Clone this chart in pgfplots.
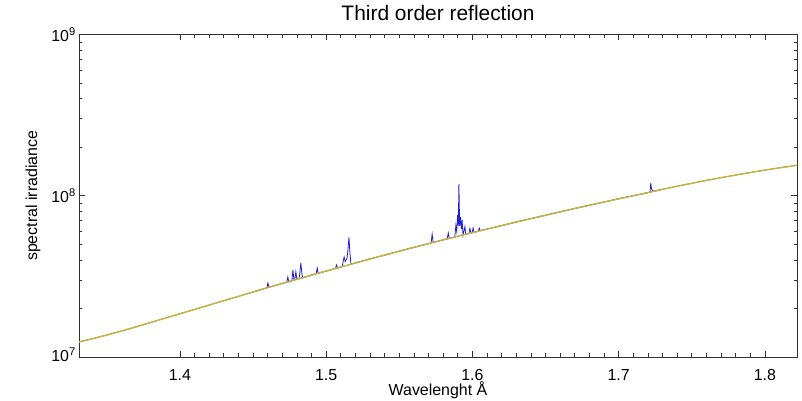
\documentclass[border=0pt]{standalone}
\usepackage{fontspec}
\setmainfont{Liberation Sans}
\usepackage{pgfplots}
\pgfplotsset{compat=1.18}
\definecolor{specblue}{RGB}{30,30,235}
\definecolor{curveorange}{RGB}{228,168,52}
\definecolor{curvegreen}{RGB}{140,185,90}
\definecolor{axisgray}{RGB}{50,50,50}
\begin{document}
\begin{tikzpicture}
\path[use as bounding box] (-79bp,-44bp) rectangle (723bp,357bp);
\begin{axis}[
  at={(0,0)}, anchor=south west,
  scale only axis, width=718bp, height=322.5bp,
  xmin=1.331, xmax=1.822, ymin=1e7, ymax=1e9, ymode=log,
  axis line style={axisgray, line width=0.7bp},
  every tick/.style={axisgray, line width=0.6bp},
  tick align=inside, tick pos=both,
  major tick length=6bp, minor tick length=3.5bp,
  xtick={1.4,1.5,1.6,1.7,1.8},
  xticklabels={1.4,1.5,1.6,1.7,1.8},
  minor x tick num=9,
  ytick={1e7,1e8,1e9},
  yticklabels={\raisebox{5bp}{10\textsuperscript{7}},10\textsuperscript{8},\raisebox{-5.5bp}{10\textsuperscript{9}}},
  xticklabel style={font=\fontsize{16}{19}\selectfont, anchor=base, yshift=-23.5bp},
  yticklabel style={font=\fontsize{16}{19}\selectfont, anchor=east, inner sep=0pt, xshift=-3bp},
  title={Third order reflection},
  title style={font=\fontsize{21}{25}\selectfont, at={(axis description cs:0.5,1.0233)}, anchor=base},
  xlabel={Wavelenght Å},
  xlabel style={font=\fontsize{16}{19}\selectfont, at={(axis description cs:0.5,-0.1209)}, anchor=base},
  ylabel={spectral irradiance},
  ylabel style={font=\fontsize{16}{19}\selectfont, at={(axis description cs:-0.0641,0.5)}, anchor=center},
]
\addplot[specblue, line width=0.8bp] coordinates {
(1.450,2.529e7) (1.4595,2.684e7) (1.4602,2.88e7) (1.4609,2.706e7) (1.47,2.858e7)
(1.4731,2.908e7) (1.4738,3.13e7) (1.4745,2.92e7)
(1.4766,2.97e7) (1.4773,3.47e7) (1.4780,2.99e7)
(1.4786,3.00e7) (1.4793,3.38e7) (1.4800,3.034e7)
(1.4815,3.06e7) (1.4820,3.3e7) (1.4827,3.83e7) (1.4834,3.3e7) (1.4840,3.09e7) (1.49,3.221e7)
(1.4932,3.28e7) (1.4939,3.56e7) (1.4946,3.30e7) (1.50,3.412e7)
(1.5064,3.54e7) (1.5071,3.72e7) (1.5078,3.56e7)
(1.5110,3.635e7) (1.5116,3.9e7) (1.5123,4.17e7) (1.5130,3.9e7)
(1.5143,4.1e7) (1.5149,4.6e7) (1.5156,5.52e7) (1.5163,4.4e7) (1.5170,3.762e7) (1.5180,3.784e7)
(1.52,3.828e7) (1.53,4.055e7) (1.54,4.285e7) (1.55,4.529e7) (1.56,4.786e7) (1.57,5.047e7)
(1.5718,5.095e7) (1.5725,5.79e7) (1.5732,5.134e7) (1.58,5.321e7)
(1.5828,5.40e7) (1.5835,5.88e7) (1.5842,5.44e7)
(1.5880,5.55e7) (1.5887,6.52e7) (1.5893,6.0e7) (1.5899,7.6e7) (1.5904,6.5e7)
(1.5908,1.18e8) (1.5913,6.5e7) (1.5919,7.4e7) (1.5925,6.2e7) (1.5930,7.08e7) (1.5936,5.71e7)
(1.5949,6.43e7) (1.5955,5.767e7)
(1.5976,5.83e7) (1.5983,6.28e7) (1.5990,5.87e7)
(1.5998,5.89e7) (1.6005,6.31e7) (1.6012,5.94e7)
(1.6040,6.025e7) (1.6047,6.31e7) (1.6054,6.07e7) (1.61,6.209e7)
(1.62,6.531e7) (1.63,6.871e7) (1.64,7.211e7) (1.65,7.568e7) (1.66,7.943e7) (1.67,8.337e7)
(1.68,8.730e7) (1.69,9.141e7) (1.70,9.572e7) (1.71,1.000e8) (1.72,1.045e8)
(1.7215,1.052e8) (1.7220,1.20e8) (1.7225,1.10e8) (1.7235,1.07e8) (1.7245,1.068e8) (1.7300,1.096e8)
};
\addplot[curvegreen, line width=1.4bp] coordinates {
(1.331,1.239e7) (1.34,1.297e7) (1.35,1.368e7) (1.36,1.449e7) (1.37,1.538e7)
(1.38,1.637e7) (1.39,1.742e7) (1.40,1.854e7) (1.41,1.972e7) (1.42,2.099e7)
(1.43,2.234e7) (1.44,2.377e7) (1.45,2.529e7) (1.46,2.692e7) (1.47,2.858e7)
(1.48,3.034e7) (1.49,3.221e7) (1.50,3.412e7) (1.51,3.614e7) (1.52,3.828e7)
(1.53,4.055e7) (1.54,4.285e7) (1.55,4.529e7) (1.56,4.786e7) (1.57,5.047e7)
(1.58,5.321e7) (1.59,5.610e7) (1.60,5.902e7) (1.61,6.209e7) (1.62,6.531e7)
(1.63,6.871e7) (1.64,7.211e7) (1.65,7.568e7) (1.66,7.943e7) (1.67,8.337e7)
(1.68,8.730e7) (1.69,9.141e7) (1.70,9.572e7) (1.71,1.000e8) (1.72,1.045e8)
(1.73,1.096e8) (1.74,1.146e8) (1.75,1.194e8) (1.76,1.245e8) (1.77,1.294e8)
(1.78,1.343e8) (1.79,1.393e8) (1.80,1.442e8) (1.81,1.489e8) (1.822,1.545e8)
};
\addplot[curveorange, line width=0.9bp] coordinates {
(1.331,1.239e7) (1.34,1.297e7) (1.35,1.368e7) (1.36,1.449e7) (1.37,1.538e7)
(1.38,1.637e7) (1.39,1.742e7) (1.40,1.854e7) (1.41,1.972e7) (1.42,2.099e7)
(1.43,2.234e7) (1.44,2.377e7) (1.45,2.529e7) (1.46,2.692e7) (1.47,2.858e7)
(1.48,3.034e7) (1.49,3.221e7) (1.50,3.412e7) (1.51,3.614e7) (1.52,3.828e7)
(1.53,4.055e7) (1.54,4.285e7) (1.55,4.529e7) (1.56,4.786e7) (1.57,5.047e7)
(1.58,5.321e7) (1.59,5.610e7) (1.60,5.902e7) (1.61,6.209e7) (1.62,6.531e7)
(1.63,6.871e7) (1.64,7.211e7) (1.65,7.568e7) (1.66,7.943e7) (1.67,8.337e7)
(1.68,8.730e7) (1.69,9.141e7) (1.70,9.572e7) (1.71,1.000e8) (1.72,1.045e8)
(1.73,1.096e8) (1.74,1.146e8) (1.75,1.194e8) (1.76,1.245e8) (1.77,1.294e8)
(1.78,1.343e8) (1.79,1.393e8) (1.80,1.442e8) (1.81,1.489e8) (1.822,1.545e8)
};
\end{axis}
\end{tikzpicture}
\end{document}
